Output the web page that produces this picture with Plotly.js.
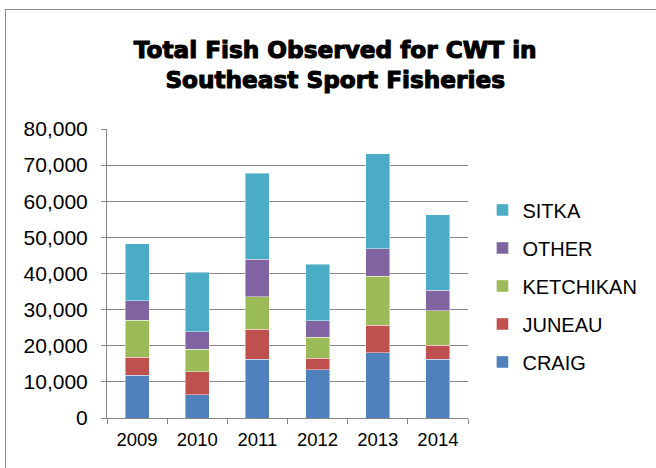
<!DOCTYPE html>
<html>
<head>
<meta charset="utf-8">
<script src="https://cdn.plot.ly/plotly-3.0.1.min.js"></script>
<style>
html,body{margin:0;padding:0;background:#fff;overflow:hidden;}
#frame{position:absolute;left:5px;top:9px;width:700px;height:520px;border:1.5px solid #8c8c8c;box-sizing:border-box;}
#chart{position:absolute;left:0;top:0;width:656px;height:468px;}
#chart .gtitle{stroke:#000;stroke-width:1.1px;stroke-linejoin:round;}
</style>
</head>
<body>
<div id="frame"></div>
<div id="chart"></div>
<script>
const years = ['2009','2010','2011','2012','2013','2014'];
const craig     = [11900, 6400, 16200, 13400, 18100, 16300];
const juneau    = [ 4900, 6400,  8300,  3100,  7600,  3900];
const ketchikan = [10200, 6200,  9100,  5800, 13600,  9500];
const other     = [ 5400, 4900, 10300,  4600,  7600,  5600];
const sitka     = [15900,16500, 23900, 15600, 26300, 21000];
const seriesNames = ['CRAIG','JUNEAU','KETCHIKAN','OTHER','SITKA'];
const seriesColors = ['#4F81BD','#C0504D','#9BBB59','#8064A2','#4BACC6'];
const seriesValues = [craig, juneau, ketchikan, other, sitka];

const traces = seriesNames.map((n,i)=>({
  type:'bar', name:n, x:years, y:seriesValues[i],
  legendgroup:n, legendrank: 1000 - i,
  marker:{color:seriesColors[i], line:{color:'rgba(255,255,255,0.55)', width:0.8}},
  hoverinfo:'x+y+name'
}));

const layout = {
  width:656, height:468,
  paper_bgcolor:'rgba(0,0,0,0)', plot_bgcolor:'rgba(0,0,0,0)',
  margin:{l:107, r:188, t:129, b:50},
  barmode:'stack', bargap:0.6,
  font:{family:'Liberation Sans, Arial, sans-serif', color:'#000'},
  title:{text:'Total Fish Observed for CWT in<br>Southeast Sport Fisheries',
    font:{family:'DejaVu Sans, sans-serif', size:23.2, color:'#000', weight:'bold'},
    x:0.511, xanchor:'center', y:0.876, yanchor:'middle', xref:'container', yref:'container'},
  xaxis:{type:'category', tickson:'boundaries', ticks:'outside', ticklen:5, tickcolor:'#868686',
    showline:true, linecolor:'#868686', linewidth:1, showgrid:false,
    ticklabelstandoff:5, tickfont:{size:18.5}},
  yaxis:{range:[0,80000], dtick:10000, tickformat:',d', showgrid:true, gridcolor:'#868686', gridwidth:1,
    showline:true, linecolor:'#868686', linewidth:1, ticks:'outside', ticklen:5, tickcolor:'#868686',
    ticklabelstandoff:9, tickfont:{size:21}, zeroline:false},
  legend:{x:1.04, xanchor:'left', y:0.457, yanchor:'middle', traceorder:'grouped',
    tracegroupgap:9, font:{size:20}, bgcolor:'rgba(0,0,0,0)'},
  showlegend:true
};
Plotly.newPlot('chart', traces, layout, {displayModeBar:false, staticPlot:true});
</script>
</body>
</html>
